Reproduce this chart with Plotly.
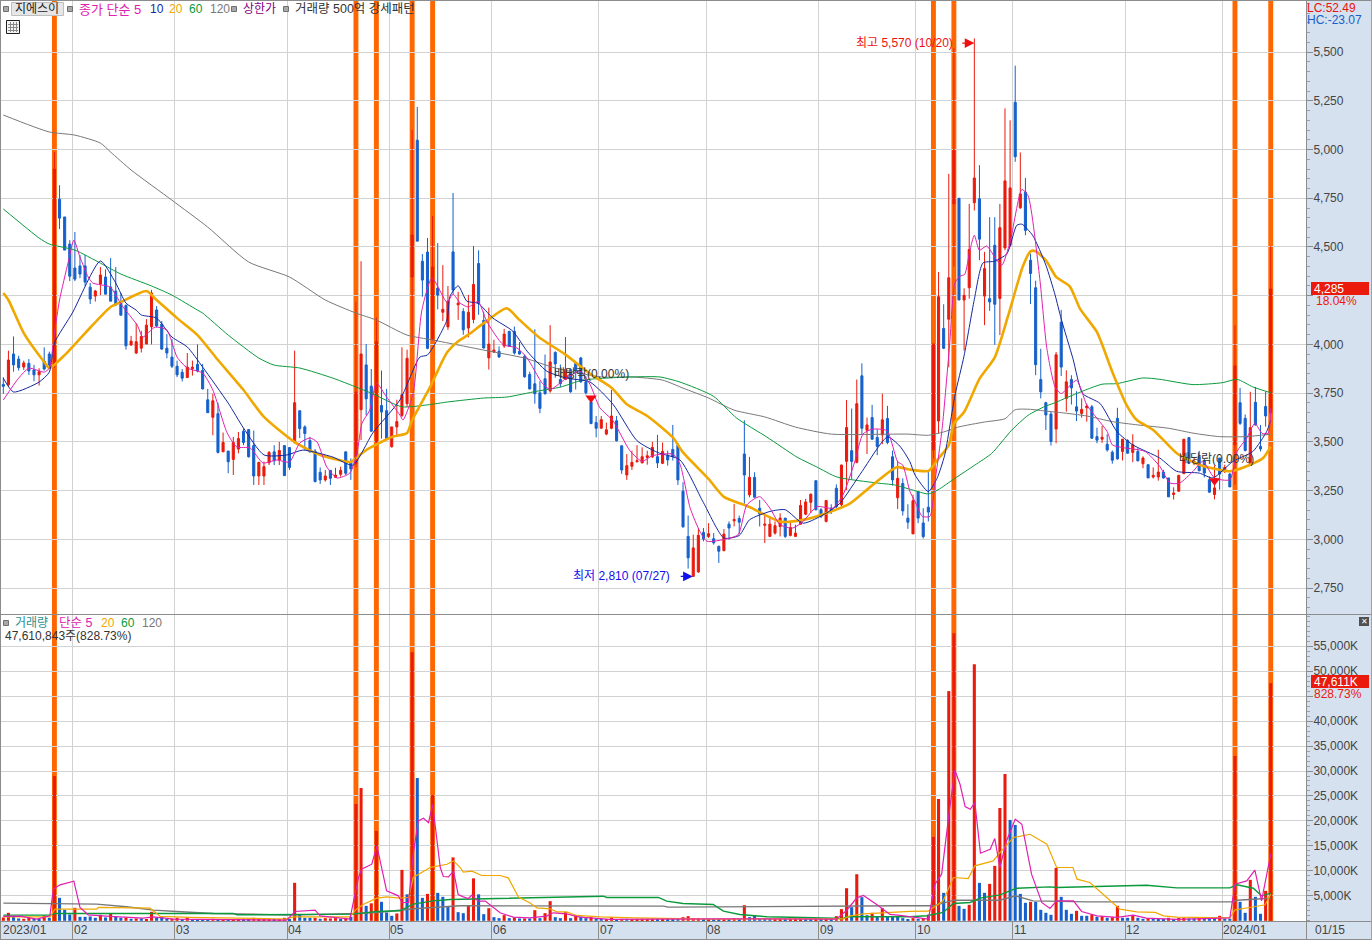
import plotly.graph_objects as go

# ---------- price candles ----------
opens = [3795,3793,3951,3925,3884,3903,3869,3844,3915,3951,
3900,4745,4654,4515,4392,4403,4403,4294,4248,4310,
4346,4294,4274,4212,4200,3997,3956,3981,4002,4090,
4177,4104,3981,3935,3888,3857,3830,3876,3898,3867,
3716,3626,3645,3449,3453,3410,3463,3555,3563,3481,
3325,3325,3393,3449,3407,3481,3471,3497,3660,3577,
3507,3453,3344,3305,3354,3318,3334,3449,3395,3390,
3665,3895,3786,3500,3687,3660,3475,3577,3636,3696,
4346,5048,4427,4474,4027,4289,4165,4090,4475,4203,
4169,4084,4128,4415,4123,3931,3961,3965,3992,4067,
4067,3965,3939,3846,3798,3752,3824,3761,3959,3820,
3820,3871,3902,3931,3808,3706,3599,3570,3540,3570,
3608,3480,3330,3375,3398,3392,3420,3424,3424,3390,
3429,3461,3483,3247,3015,2810,2833,3036,3015,3003,
2964,2942,3078,3095,3107,3438,3228,3318,3160,3072,
3015,3032,3066,3109,3020,3015,3078,3129,3190,3301,
3152,3092,3160,3262,3177,3400,3455,3395,3839,3560,
3625,3523,3536,3620,3424,3213,3287,3109,3028,3245,
3084,3165,3458,3607,4082,4129,4721,4750,4228,4291,
4727,4747,4248,4235,4509,4236,4495,4509,5242,4701,
4781,4432,4291,3820,3701,3643,3566,4114,3723,3820,
3680,3646,3675,3680,3527,3514,3488,3447,3621,3451,
3507,3446,3451,3388,3383,3320,3320,3345,3315,3230,
3247,3337,3522,3393,3425,3403,3306,3230,3417,3349,
3335,3485,3701,3621,3386,3703,3477,3682,3650]
closes = [3785,3920,3895,3881,3905,3864,3844,3860,3874,3895,
4900,4648,4484,4350,4335,4361,4320,4233,4274,4356,
4258,4222,4202,4150,3993,4017,4014,4041,4099,4264,
4095,3976,3956,3888,3844,3827,3884,3883,3864,3772,
3650,3711,3446,3497,3398,3497,3517,3497,3424,3325,
3395,3373,3446,3403,3456,3327,3369,3701,3568,3543,
3449,3296,3305,3325,3313,3330,3354,3339,3361,3755,
3951,3721,3555,4014,3653,3517,3577,3604,3742,3929,
4561,4530,4330,3980,4397,4253,4180,4222,4279,4212,
4075,4165,4308,4211,3982,4002,3971,3936,4053,3991,
3956,3951,3834,3772,3747,3672,3747,3910,3900,3798,
3871,3757,3863,3808,3752,3594,3570,3614,3562,3633,
3506,3356,3378,3395,3403,3424,3429,3472,3392,3451,
3407,3424,3305,3064,2905,2956,3021,3002,3029,2982,
2939,3027,3058,3102,3088,3330,3318,3216,3130,3078,
3078,3070,3109,3015,3061,3032,3174,3192,3231,3152,
3117,3199,3143,3168,3381,3574,3400,3696,3570,3587,
3514,3477,3613,3497,3305,3313,3146,3088,3198,3109,
3014,3140,4002,4245,3980,4342,4997,4228,4252,4487,
4854,4540,4389,4218,4206,4599,4839,4803,4963,4772,
4585,4364,3896,3757,3638,3502,3947,3884,3808,3777,
3658,3667,3684,3519,3509,3524,3459,3406,3413,3514,
3442,3485,3403,3417,3315,3328,3345,3315,3218,3238,
3328,3514,3391,3400,3352,3340,3242,3264,3335,3369,
3269,3890,3595,3456,3573,3587,3464,3633,4285]
highs = [3832,3968,4041,3942,3917,3925,3895,3878,3985,3963,
4987,4817,4654,4535,4577,4459,4459,4315,4280,4397,
4385,4443,4397,4264,4205,4044,4109,4070,4130,4280,
4197,4120,4053,4027,3917,3874,3956,3917,4000,3900,
3772,3747,3701,3548,3453,3526,3551,3568,3563,3558,
3398,3398,3453,3483,3500,3481,3471,3968,3660,3585,
3526,3463,3369,3356,3354,3367,3373,3449,3415,4220,
4427,4002,3874,4138,3866,3772,3577,3716,3985,3973,
5100,5218,4464,4546,4659,4520,4407,4300,4777,4270,
4186,4254,4505,4483,4169,4189,4024,3990,4080,4070,
4092,4012,3948,3860,4078,3811,3948,4099,3965,3897,
4038,3871,3905,3936,3837,3716,3633,3633,3599,3766,
3633,3480,3438,3455,3483,3472,3455,3500,3536,3497,
3455,3587,3494,3293,3122,3024,3058,3058,3083,3032,
2968,3053,3092,3182,3122,3611,3423,3344,3202,3134,
3109,3092,3134,3109,3092,3075,3202,3208,3236,3301,
3160,3202,3180,3282,3384,3715,3671,3820,3903,3625,
3690,3565,3747,3685,3455,3403,3313,3180,3229,3245,
3160,3356,4005,4372,4206,4875,5520,4750,4288,4721,
5570,4920,4475,4653,4653,4721,5211,5150,5430,4985,
4854,4466,4327,3978,3706,3655,3961,4177,3867,3842,
3760,3723,3697,3689,3573,3583,3539,3456,3675,3514,
3514,3539,3468,3426,3383,3369,3460,3357,3315,3267,
3332,3514,3522,3420,3454,3414,3323,3378,3417,3383,
3340,4097,3777,3641,3757,3782,3587,3757,4505]
lows = [3747,3786,3860,3866,3869,3844,3811,3789,3866,3883,
3880,4592,4484,4325,4325,4340,4300,4207,4220,4253,
4258,4222,4202,4150,3973,3993,3951,3959,4002,4000,
4087,3973,3929,3879,3832,3810,3830,3840,3857,3769,
3650,3534,3441,3449,3339,3330,3441,3483,3419,3279,
3279,3279,3381,3381,3381,3325,3356,3492,3520,3458,
3446,3293,3284,3296,3279,3318,3322,3330,3305,3370,
3509,3636,3551,3492,3517,3514,3471,3526,3628,3679,
4000,4530,4245,3975,4020,4180,4120,4075,4258,4126,
4050,4036,4109,4152,3978,3871,3956,3931,3982,3987,
3948,3948,3829,3769,3696,3647,3743,3752,3829,3781,
3817,3752,3769,3803,3743,3591,3523,3570,3534,3565,
3502,3336,3305,3356,3395,3392,3383,3417,3366,3386,
3378,3404,3279,3060,2850,2810,2828,2990,3007,2973,
2879,2939,2998,3066,3027,3182,3216,3216,3066,2981,
3012,3024,3015,3007,3015,3015,3075,3124,3135,3148,
3109,3087,3130,3160,3168,3253,3310,3390,3540,3438,
3511,3432,3488,3488,3276,3156,3122,3054,3028,3083,
3004,3092,3415,3543,3976,3883,4400,4228,3968,4235,
4687,4432,4099,4172,3998,4048,4483,4500,4937,4696,
4560,4207,3842,3723,3561,3481,3493,3838,3655,3692,
3607,3624,3604,3516,3493,3495,3450,3388,3408,3405,
3439,3396,3400,3365,3315,3312,3301,3312,3218,3204,
3243,3337,3386,3380,3349,3318,3240,3205,3255,3340,
3269,3281,3587,3451,3380,3584,3451,3578,3640]

# ---------- price moving averages (read at selected bars) ----------
ma5_x = [0,3,5,8,9,10,11,12.7,13.8,15,16.6,17.5,20.9,23.2,26.2,27.3,29.7,32,34,36,39,41,43.8,45.7,48.3,50.8,53.5,56,58,60,61.4,63.3,65.3,67.8,69.2,70.2,71.7,73,75,77.6,78.2,80.2,81.9,83.9,86.8,88,89.4,91,92.9,94.6,97.8,100.5,102.5,105.4,107,110.3,112.8,114.8,116.7,119.3,122.6,125,127,131,132.4,134.4,136.3,137.7,141.6,143.8,145.5,148,150,152,154.5,156.5,159.2,162.3,164.3,166.6,168.2,170,172.9,175,176,177.4,178.4,179.8,181.3,182.3,183.7,185.2,186.2,187.2,188.1,189.1,190,191,192.4,194.4,195.4,197,199.3,200.5,202.8,204.2,205.8,207,210,212,214,216,217,219,223.4,226.3,228.3,230.2,232.8,234.7,237,240,241.4,243.3,244.9,246.3,247.5,248]
ma5_v = [3715,3827,3878,3858,3878,4058,4228,4423,4535,4448,4346,4315,4294,4200,4099,4038,4089,4074,3935,3879,3853,3766,3546,3474,3469,3392,3407,3397,3494,3520,3499,3371,3315,3340,3443,3597,3663,3802,3730,3638,3612,3750,4176,4341,4217,4258,4212,4192,4220,4118,3999,3982,3930,3803,3769,3829,3863,3795,3676,3608,3455,3400,3429,3437,3386,3160,3041,2990,3003,3024,3177,3219,3160,3075,3058,3092,3168,3160,3228,3398,3540,3565,3557,3398,3381,3245,3194,3118,3118,3296,3568,4010,4316,4350,4359,4478,4560,4483,4505,4432,4407,4526,4795,4764,4339,3978,3782,3748,3816,3689,3621,3553,3485,3471,3451,3374,3289,3289,3349,3400,3315,3306,3451,3519,3595,3544,3544,3672]
ma10_x = [0,2,7,9,10,13.5,19,22,24,26,27,30,33,36,39,44,47,51,55.5,58.6,64.5,68.4,72.3,77.6,81.5,83,86.8,87.4,89,90.7,92.9,95.8,99.7,102.5,106.4,110.3,114.8,119.3,124,128,132.4,137,141,144,146,150,153,156.5,161,163.7,168,173,175.4,177.4,178.4,181,182.7,184.2,186.2,188,190,191.7,194,196.4,198.3,199.3,201.4,204,205.8,207,209.3,211.2,214.6,217.9,221,226.3,229.6,234,236.7,240.6,244.5,247.2,248]
ma10_v = [3827,3756,3807,3858,4007,4161,4428,4315,4212,4176,4151,4135,4038,3987,3884,3699,3571,3433,3433,3458,3422,3381,3546,3715,3935,3946,4125,4247,4301,4222,4211,4135,4068,3965,3862,3827,3807,3693,3506,3446,3407,3188,3007,3020,3100,3143,3152,3083,3134,3185,3347,3525,3479,3398,3330,3245,3313,3432,3738,3942,4231,4418,4427,4466,4611,4617,4560,4407,4254,4131,3927,3748,3697,3553,3485,3417,3349,3340,3315,3400,3451,3553,3612]
ma20_x = [0,1,4,8,9,12,16,21,23,28,30,34,38,42,47,51,57,62,68,69,71,76,79,80,83.5,86,87,89,91,94,98.5,101,105,110,115,119,122,126,131,133,138,141,146,152,156.5,161,165.7,169.6,174.8,177,181,183,185,186,188,191,194,196.6,199.5,201,202,204,206,208.7,210.7,214,217,219.8,221.8,225,229.6,234,240,244,246.5,248]
ma20_v = [4264,4228,4058,3910,3879,3945,4058,4192,4217,4274,4228,4135,4048,3920,3766,3628,3499,3433,3397,3417,3458,3525,3546,3612,3781,3920,3965,4016,4050,4109,4186,4126,4033,3948,3846,3778,3693,3633,3523,3446,3310,3218,3166,3091,3100,3134,3185,3268,3370,3360,3351,3415,3483,3594,3653,3823,3934,4146,4401,4478,4478,4432,4347,4297,4182,4063,3859,3689,3612,3561,3442,3383,3349,3383,3417,3476]
ma60_x = [0,7,9,14,19,23,29,33,38,39,44,50,53,58,64.5,68,72,78,83,87,94,98.5,104.4,109,113.4,122.6,128.5,132.4,138.9,143.5,149.4,155.3,159.2,163.1,171,174.4,177.8,181,182.9,186.2,190.1,193.4,197.3,200.5,203.8,205.4,210,215,217.9,223,226.3,232.8,238.6,241.4,244.5,248]
ma60_v = [4695,4546,4515,4484,4417,4361,4300,4253,4176,4161,4048,3930,3894,3879,3827,3792,3750,3680,3690,3705,3725,3730,3760,3781,3817,3833,3833,3807,3735,3622,3525,3422,3371,3320,3289,3279,3254,3233,3254,3313,3381,3441,3560,3636,3682,3697,3748,3796,3799,3828,3821,3794,3804,3821,3782,3752]
ma120_x = [0,9,14,19,21,25,33,40,48,56,63,69,73,79,84,89,94,102,108,117,123,129,133,138,143,149,155,162,177,181,184,187,192,196,198,201,204,207,212,217,222,228,233,238,243,248]
ma120_v = [5177,5090,5074,5033,4987,4895,4740,4602,4423,4346,4228,4161,4125,4048,4023,3997,3971,3930,3879,3833,3833,3817,3776,3725,3663,3628,3576,3540,3540,3534,3551,3577,3602,3619,3665,3667,3658,3650,3633,3604,3587,3570,3544,3527,3527,3539]

# ---------- volume (thousand shares) ----------
volume = [670,1600,800,470,400,670,530,270,1070,600,
29000,4600,2200,1270,2600,800,800,870,600,1200,
670,1470,870,600,670,400,470,470,270,1800,
670,800,400,400,600,270,670,270,270,270,
300,400,300,350,250,300,250,250,300,600,
200,200,300,200,250,600,250,7600,1200,600,
600,600,400,530,470,530,330,600,800,23400,
26600,3000,3500,18000,3800,1670,1000,1470,10200,5300,
53800,28600,4600,5400,25200,5600,4800,2900,12700,1730,
1530,3130,8500,5300,1330,2530,730,530,1130,530,
670,470,470,470,2130,530,1530,3930,730,530,
1730,530,1000,870,530,730,400,400,270,730,
270,400,400,200,200,200,200,270,270,270,
270,270,530,730,930,470,470,270,330,200,
200,270,200,530,200,3130,730,1130,400,400,
400,300,250,250,250,250,300,250,250,250,
250,300,250,930,2330,6530,2730,9330,4730,1130,
1600,930,2530,930,930,930,530,330,530,400,
400,1200,16800,24400,5600,46000,57600,3000,2400,3200,
51400,7600,5600,7400,11000,22600,29400,20200,19200,5400,
3600,3800,3800,2200,1600,1200,10600,4800,2200,1400,
2000,1000,1000,1200,800,930,600,730,3000,600,
600,1000,600,400,530,470,270,270,600,330,
600,600,470,470,600,530,530,530,1000,400,
400,33000,3800,1600,8200,4800,1400,6000,47611]
volume_dir = ("rrbbrrbbrb" "rbbbrbbbbr" "brbbrbrbrr" "bbbrrbrbbb" "brbrbrrbbr"
              "rrrbrrbrbb" "brbrrrbrbr" "rbrrbbbrrb" "rbbrrbbbrb" "brrbbrbbrb"
              "rbrbrbrrbb" "rbrbbrbbrr" "brbrrrrrbr" "bbbrrrrbrb" "brbrbrbbbb"
              "brrbrrrbbr" "brbrrrbrbb" "rbrbbbbbrb" "rrrrbrrbbr" "rbbrrrrbbb"
              "brbbbbrbbb" "rbbrbrbrrb" "brbbrbbbrb" "rrbbrbbbrb" "brbbrbbrr")

vma5_x = [0,3.3,6.5,9.1,9.8,11.1,13.8,15,16.6,20.9,27.4,29.4,33.3,55.4,57.1,61,62,67.8,69.5,70.1,72.1,73.1,75,77.3,78,79.3,80.2,81.2,82.2,83.2,84,85.5,86.1,87.1,88.1,89,90,91,91.7,92.9,94.3,97.2,99.8,103,106.3,107.6,110.2,112.8,118.7,138.3,163,165,167,168.3,170.9,173.5,175.5,181,182.3,183.6,185.2,186.2,187.2,188.2,189.2,190.1,191.2,193.1,194,195,196.3,198,199.3,201.2,203.2,204.8,206.1,207.4,209.4,211,214,217.9,221.1,223.7,229.6,240,241,243.3,244.9,246.2,248]
vma5_v = [870,930,330,1000,6330,7200,7940,2670,1200,870,530,800,330,130,1870,2130,1000,330,8670,10340,11340,15000,6000,5000,3670,3670,13340,20000,20540,19670,23340,10670,8870,8800,9940,5270,4800,4470,5140,3940,3940,1600,730,600,930,1600,1400,730,270,400,330,2070,4600,5070,3270,1270,1070,330,7340,9340,22670,30140,27340,22880,22340,23680,13540,14340,16470,10670,16000,20340,19340,9340,3670,2470,4000,4000,4000,1870,1000,670,1130,530,270,600,7340,8000,10140,4000,13340]
vma20_x = [0,9.1,10.1,18.3,18.6,28.7,30.7,36.5,48.9,55.4,56.8,67.8,69.1,70.5,73.1,75,77.6,79.3,80.2,83.5,84.1,86.8,88.1,89.4,90,91.7,93.6,97.2,98.8,100.8,103,104.4,107,108.3,110.2,112.2,116.8,123.6,138.3,144.7,156.5,164.4,165.7,168.3,173.5,177.4,181,182,183.9,185.9,188.8,190.1,193.7,195,197.6,200.9,204.2,206.1,209.3,210.1,212.6,215.9,218.5,221.8,225.4,227,229.6,240,241,243.9,246.9,248]
vma20_v = [800,800,2330,2330,2670,2530,870,670,470,330,800,800,2330,3330,4530,4800,4530,4670,8670,10670,10800,11330,12000,10670,9740,9940,9070,9070,8600,4740,3600,2600,2400,1800,1800,1070,800,600,330,400,400,400,1000,1400,1730,1870,1930,2670,4000,8670,8470,11000,12000,13670,16670,17330,15340,10670,10670,8340,7670,4670,2330,1800,1670,1000,730,600,2200,2670,3200,5330]
vma60_x = [0,9.1,10.1,45,45.7,55.4,56.8,68.5,73.1,77.6,80.2,84.1,87.4,105,117.4,118.1,128.2,129.8,133,138.9,140.9,144.1,149.4,156.5,164.4,165,177.4,180.7,183.9,185.9,189.2,191.1,195,198.3,204.8,206.1,217.2,223.7,229.6,240,241.4,244.6,246.2,248]
vma60_v = [1130,1130,1470,1470,1200,1200,1330,1330,1870,2000,3330,4000,4270,4600,4930,4670,4670,3930,3470,3270,1930,1270,800,670,470,800,800,1000,1670,3470,3670,4530,5200,6530,6800,6670,6930,7130,6600,6600,7200,6530,5000,5530]
vma120_x = [0,9.1,18.3,24.1,29.4,33.9,41.1,48.9,55.4,69,73.1,81,89.4,129.2,130.1,175.5,182,186,195,198,201.5,212,240.7,241.4,248]
vma120_v = [3530,3400,3330,2800,2130,1870,1470,1330,1130,1470,1670,2470,3000,2930,2730,3000,3000,4130,4130,5000,4000,3800,3800,4130,4530]

# ---------- markers / labels ----------
signal_bars = [10,69,73,80,84,182,186,241,248]
month_bars = [14,34,56,76,96,117,138,160,179,198,220,239]
month_labels = ["02","03","04","05","06","07","08","09","10","11","12","2024/01"]
ex_div_bars = [115,237]
ex_div_marks = [3725,3300]
price_ticks = [5500,5250,5000,4750,4500,4250,4000,3750,3500,3250,3000,2750]
price_labels = ["5,500","5,250","5,000","4,750","4,500","","4,000","3,750","3,500","3,250","3,000","2,750"]
volume_ticks = [55000,50000,45000,40000,35000,30000,25000,20000,15000,10000,5000]
volume_labels = ["55,000K","50,000K","","40,000K","35,000K","30,000K","25,000K","20,000K","15,000K","10,000K","5,000K"]

assert all(len(a) == 249 for a in (opens, closes, highs, lows, volume, volume_dir))

RED, BLUE = "#EA1A0C", "#1560CC"
MAG, NAVY, ORG, GRN, GRY = "#E020B0", "#1428A0", "#F0A800", "#0A9A3C", "#787878"
BAND = "#FF6600"
STRIP = "#D6E1EF"
W, H = 1372, 940
FONT = "Liberation Sans, Noto Sans CJK KR, sans-serif"
px = lambda v: v / W
py = lambda v: 1 - v / H

fig = go.Figure()
bars = list(range(249))
fig.add_trace(go.Candlestick(
    x=bars, open=opens, high=highs, low=lows, close=closes, xaxis="x", yaxis="y",
    increasing=dict(line=dict(color=RED, width=1), fillcolor=RED),
    decreasing=dict(line=dict(color=BLUE, width=1), fillcolor=BLUE),
    whiskerwidth=0, hoverinfo="skip", showlegend=False))

def add_line(xs, ys, color, width, xa="x", ya="y", curve="linear"):
    line = dict(color=color, width=width, shape=curve)
    if curve == "spline":
        line["smoothing"] = 0.6
    fig.add_trace(go.Scatter(x=xs, y=ys, mode="lines", xaxis=xa, yaxis=ya, line=line,
                             hoverinfo="skip", showlegend=False))

add_line(ma120_x, ma120_v, GRY, 1, curve="spline")
add_line(ma60_x, ma60_v, GRN, 1, curve="spline")
add_line(ma20_x, ma20_v, ORG, 2.6, curve="spline")
add_line(ma10_x, ma10_v, NAVY, 1, curve="spline")
add_line(ma5_x, ma5_v, MAG, 1, curve="spline")

fig.add_trace(go.Scatter(x=ex_div_bars, y=ex_div_marks, mode="markers", xaxis="x", yaxis="y",
                         marker=dict(symbol="triangle-down", size=10, color="#F00A14"),
                         hoverinfo="skip", showlegend=False))

fig.add_trace(go.Bar(x=bars, y=volume, xaxis="x2", yaxis="y2", width=0.6,
                     marker=dict(color=[RED if d == "r" else BLUE for d in volume_dir], line=dict(width=0)),
                     hoverinfo="skip", showlegend=False))
add_line(vma120_x, vma120_v, GRY, 1.4, "x2", "y2")
add_line(vma60_x, vma60_v, GRN, 1.4, "x2", "y2")
add_line(vma20_x, vma20_v, ORG, 1.2, "x2", "y2")
add_line(vma5_x, vma5_v, MAG, 1.2, "x2", "y2")

# ---------- shapes ----------
shapes = []
for b in signal_bars:
    w = 0.48
    shapes.append(dict(type="rect", xref="x", yref="y", x0=b - w, x1=b + w, y0=2617, y1=5762,
                       fillcolor=BAND, line_width=0, layer="below"))
    shapes.append(dict(type="rect", xref="x2", yref="y2", x0=b - w, x1=b + w, y0=-40, y1=61245,
                       fillcolor=BAND, line_width=0, layer="below"))

def rect(x0, y0, x1, y1, fill, line=None, lw=1):
    shapes.append(dict(type="rect", xref="paper", yref="paper", x0=px(x0), x1=px(x1), y0=py(y1), y1=py(y0),
                       fillcolor=fill, line=dict(color=line or fill, width=lw if line else 0), layer="above"))

def seg(x0, y0, x1, y1, color="#8C8C8C", lw=1):
    shapes.append(dict(type="line", xref="paper", yref="paper", x0=px(x0), x1=px(x1), y0=py(y0), y1=py(y1),
                       line=dict(color=color, width=lw), layer="above"))

seg(0, 0.5, W, 0.5)
seg(0.5, 0, 0.5, 940)
seg(0, 614.5, W, 614.5)
seg(0, 921.5, W, 921.5)
seg(0, 939.5, W, 939.5)
seg(1306.5, 0, 1306.5, 940)
seg(1371.5, 0, 1371.5, 940, "#A0A0A0")
# legend bullets
for bx, by in [(6, 9), (70, 9), (234, 9), (286, 9), (6, 623)]:
    rect(bx - 2.5, by - 2.5, bx + 2.5, by + 2.5, "#A8A8A8", "#707070")
rect(11.5, 2.5, 63.5, 15.5, "#E6E6E6", "#BEBEBE")
# table icon
rect(6.5, 20.5, 19.5, 33.5, "#F4F4F4", "#202020")
for gy in (24.5, 27.5, 30.5):
    seg(8, gy, 18, gy, "#8A8A8A")
for gx in (10.5, 13.5, 16.5):
    seg(gx, 22, gx, 32, "#8A8A8A")
# price and volume flags
rect(1311, 282, 1369, 295, "#EA1A0C")
rect(1311, 675, 1369, 688, "#EA1A0C")
rect(1359, 617, 1369, 626, "#505050")

# ---------- text ----------
ann = []
def label(x, y, text, color="#333333", size=12, anchor="left"):
    ann.append(dict(xref="paper", yref="paper", x=px(x), y=py(y), text=text, showarrow=False,
                    xanchor=anchor, yanchor="middle", font=dict(family=FONT, size=size, color=color),
                    borderpad=0, borderwidth=0))

label(15, 9, "지에스이", "#222222")
label(79, 9, "종가 단순 5", MAG, 13)
label(150, 9, "10", NAVY)
label(169, 9, "20", ORG)
label(189, 9, "60", GRN)
label(210, 9, "120", GRY)
label(243, 9, "상한가", "#800080")
label(295, 9, "거래량 500억 강세패턴", "#333333", 12.5)
label(1307, 8, "LC:52.49", "#EE1010")
label(1307, 20, "HC:-23.07", "#1560CC")
label(1314, 288.5, "4,285", "#FFFFFF")
label(1316, 300.5, "18.04%", "#EA1A0C")
label(1314, 681.5, "47,611K", "#FFFFFF")
label(1314, 693.5, "828.73%", "#EA1A0C")
label(15, 623, "거래량", "#2A9090")
label(59, 623, "단순 5", MAG, 12.5)
label(101, 623, "20", ORG)
label(121, 623, "60", GRN)
label(142, 623, "120", GRY)
label(5, 636, "47,610,843주(828.73%)", "#333333")
label(3, 930, "2023/01", "#444444")
label(1315, 930, "01/15", "#444444")
label(1364, 621.5, "✕", "#FFFFFF", 8, "center")
for b, t in zip(month_bars, month_labels):
    ann.append(dict(xref="x2", yref="paper", x=b - 0.45, y=py(930), text=t, showarrow=False, xanchor="left",
                    xshift=-1, yanchor="middle", font=dict(family=FONT, size=12, color="#444444")))
# high / low call-outs
ann.append(dict(xref="x", yref="y", x=186.2, y=5546, text="최고 5,570 (10/20)", showarrow=False, xanchor="right",
                yanchor="middle", font=dict(family=FONT, size=12, color="#EE1010")))
ann.append(dict(xref="x", yref="y", x=190, y=5546, text=" ", showarrow=True, ax=-15, ay=0, arrowhead=2,
                arrowsize=1.6, arrowwidth=1.2, arrowcolor="#EE1010", standoff=0))
ann.append(dict(xref="x", yref="y", x=130.9, y=2810, text="최저 2,810 (07/27)", showarrow=False, xanchor="right",
                yanchor="middle", font=dict(family=FONT, size=12, color="#1010EE")))
ann.append(dict(xref="x", yref="y", x=134.9, y=2810, text=" ", showarrow=True, ax=-15, ay=0, arrowhead=2,
                arrowsize=1.6, arrowwidth=1.2, arrowcolor="#1010EE", standoff=0))
for b, p in [(107.3, 3848), (229.6, 3412)]:
    ann.append(dict(xref="x", yref="y", x=b, y=p, text="배당락(0.00%)", showarrow=False, xanchor="left",
                    yanchor="middle", font=dict(family=FONT, size=12, color="#333333")))

xrange_ = [-0.65, 254.9]
grid = "#D2D2D2"
tick_vals = [b - 0.45 for b in month_bars]
fig.update_layout(
    width=W, height=H, margin=dict(l=0, r=0, t=0, b=0),
    paper_bgcolor=STRIP, plot_bgcolor="#FFFFFF", showlegend=False, barmode="overlay",
    boxgap=0.42, hovermode=False,
    font=dict(family=FONT, size=12, color="#444444"),
    shapes=shapes, annotations=ann,
    xaxis=dict(domain=[0, px(1306)], range=xrange_, anchor="y", rangeslider=dict(visible=False),
               tickmode="array", tickvals=tick_vals, ticktext=[""] * len(tick_vals), ticks="",
               showgrid=True, gridcolor=grid, gridwidth=1, zeroline=False, showline=False),
    xaxis2=dict(domain=[0, px(1306)], range=xrange_, anchor="y2", matches="x",
                tickmode="array", tickvals=tick_vals, ticktext=[""] * len(tick_vals),
                ticks="outside", ticklen=18, tickcolor="#8C8C8C", tickwidth=1,
                showgrid=True, gridcolor=grid, gridwidth=1, zeroline=False, showline=False),
    yaxis=dict(domain=[py(614), py(1)], range=[2617, 5762], anchor="x", side="right",
               tickmode="array", tickvals=price_ticks, ticktext=price_labels,
               ticks="outside", ticklen=6, tickcolor="#8C8C8C", tickwidth=1, ticklabelstandoff=-2,
               minor=dict(ticks="outside", ticklen=3, dtick=50, tickcolor="#A0A0A0", showgrid=False),
               showgrid=True, gridcolor=grid, gridwidth=1, zeroline=False, showline=False,
               tickfont=dict(family=FONT, size=12, color="#444444")),
    yaxis2=dict(domain=[py(921), py(615)], range=[-40, 61245], anchor="x2", side="right",
                tickmode="array", tickvals=volume_ticks, ticktext=volume_labels,
                ticks="outside", ticklen=6, tickcolor="#8C8C8C", tickwidth=1, ticklabelstandoff=-2,
                minor=dict(ticks="outside", ticklen=3, dtick=1000, tickcolor="#A0A0A0", showgrid=False),
                showgrid=True, gridcolor=grid, gridwidth=1, zeroline=False, showline=False,
                tickfont=dict(family=FONT, size=12, color="#444444")),
)

fig.write_html("out.html", config=dict(displayModeBar=False),
               post_script="document.body.style.margin='0';document.body.style.overflow='hidden';")
